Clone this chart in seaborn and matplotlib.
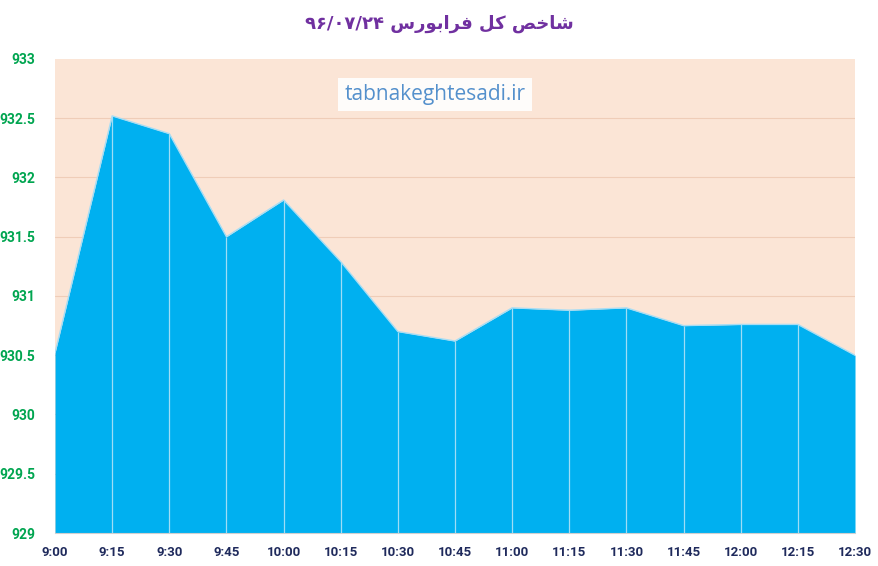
import matplotlib
matplotlib.use("Agg")
import matplotlib.pyplot as plt
import seaborn as sns
import numpy as np
import pandas as pd

# data
times = ["9:00", "9:15", "9:30", "9:45", "10:00", "10:15", "10:30", "10:45",
         "11:00", "11:15", "11:30", "11:45", "12:00", "12:15", "12:30"]
index_values = [930.52, 932.52, 932.37, 931.50, 931.81, 931.29, 930.70, 930.62,
                930.90, 930.88, 930.90, 930.75, 930.76, 930.76, 930.50]
y_ticks = [929, 929.5, 930, 930.5, 931, 931.5, 932, 932.5, 933]

title_text = "شاخص کل فرابورس ۹۶/۰۷/۲۴"
watermark = "tabnakeghtesadi.ir"

# matplotlib has no arabic shaping, so map letters to presentation forms
FORMS = {  # isolated, final, initial, medial
    "ش": ("\uFEB5", "\uFEB6", "\uFEB7", "\uFEB8"),
    "ا": ("\uFE8D", "\uFE8E", None, None),
    "خ": ("\uFEA5", "\uFEA6", "\uFEA7", "\uFEA8"),
    "ص": ("\uFEB9", "\uFEBA", "\uFEBB", "\uFEBC"),
    "ک": ("\uFB8E", "\uFB8F", "\uFB90", "\uFB91"),
    "ل": ("\uFEDD", "\uFEDE", "\uFEDF", "\uFEE0"),
    "ف": ("\uFED1", "\uFED2", "\uFED3", "\uFED4"),
    "ر": ("\uFEAD", "\uFEAE", None, None),
    "ب": ("\uFE8F", "\uFE90", "\uFE91", "\uFE92"),
    "و": ("\uFEED", "\uFEEE", None, None),
    "س": ("\uFEB1", "\uFEB2", "\uFEB3", "\uFEB4"),
}


def shape_word(word):
    out = []
    for i, ch in enumerate(word):
        if ch not in FORMS:
            out.append(ch)
            continue
        prev = word[i - 1] if i > 0 else None
        nxt = word[i + 1] if i < len(word) - 1 else None
        join_prev = prev in FORMS and FORMS[prev][2] is not None
        join_next = nxt in FORMS and FORMS[ch][2] is not None
        iso, fin, ini, med = FORMS[ch]
        if join_prev and join_next:
            out.append(med)
        elif join_prev:
            out.append(fin)
        elif join_next:
            out.append(ini)
        else:
            out.append(iso)
    return "".join(out)


def rtl(text):
    words = text.split(" ")
    vis = []
    for w in reversed(words):
        if any(c in FORMS for c in w):
            vis.append(shape_word(w)[::-1])
        else:
            vis.append(w)
    return " ".join(vis)


df = pd.DataFrame({"pos": np.arange(len(times)), "value": index_values})

sns.set_theme(style="white")
plt.rcParams['font.family'] = ['DejaVu Sans']

fig = plt.figure(figsize=(8.79, 5.66), dpi=100)
ax = fig.add_axes([0.0626, 0.0583, 0.9101, 0.8375])
ax.set_facecolor("#FBE5D6")

for t in y_ticks[1:-1]:
    ax.axhline(t, color="#EFCDB8", lw=0.8, zorder=1)

ax.fill_between(df["pos"], y_ticks[0], df["value"], color="#00B0F0", lw=0, zorder=2)
ax.vlines(df["pos"][1:-1], y_ticks[0], df["value"][1:-1], color="#9FDDF6", lw=0.9, zorder=3)
sns.lineplot(data=df, x="pos", y="value", color="#A8DDF4", lw=1.0, ax=ax, zorder=4)

ax.set_xlim(0, len(times) - 1)
ax.set_ylim(y_ticks[0], y_ticks[-1])
ax.set_xticks(df["pos"])
ax.set_xticklabels(times, color="#1F2A5C", fontsize=9.5, fontweight="bold", family="Roboto")
ax.set_yticks(y_ticks)
ax.set_yticklabels([f"{v:g}" for v in y_ticks], color="#00A550", fontsize=10, fontweight="bold",
                   family="Roboto")
ax.tick_params(axis="x", length=0, pad=9)
ax.tick_params(axis="y", length=0, pad=14)
ax.set_xlabel("")
ax.set_ylabel("")
for side in ["top", "right", "left"]:
    ax.spines[side].set_visible(False)
ax.spines["bottom"].set_color("#D0D0D0")
ax.spines["bottom"].set_linewidth(0.8)

fig.text(0.5, 0.958, rtl(title_text), ha="center", va="center", fontsize=13,
         fontweight="bold", color="#7030A0", family="DejaVu Sans")
ax.text(0.475, 0.925, watermark, transform=ax.transAxes, ha="center", va="center",
        fontsize=15, color="#5490CC", family="Open Sans", zorder=5,
        bbox=dict(boxstyle="square,pad=0.3", facecolor="white", edgecolor="none", alpha=0.9))

fig.savefig("out.png", dpi=100)
